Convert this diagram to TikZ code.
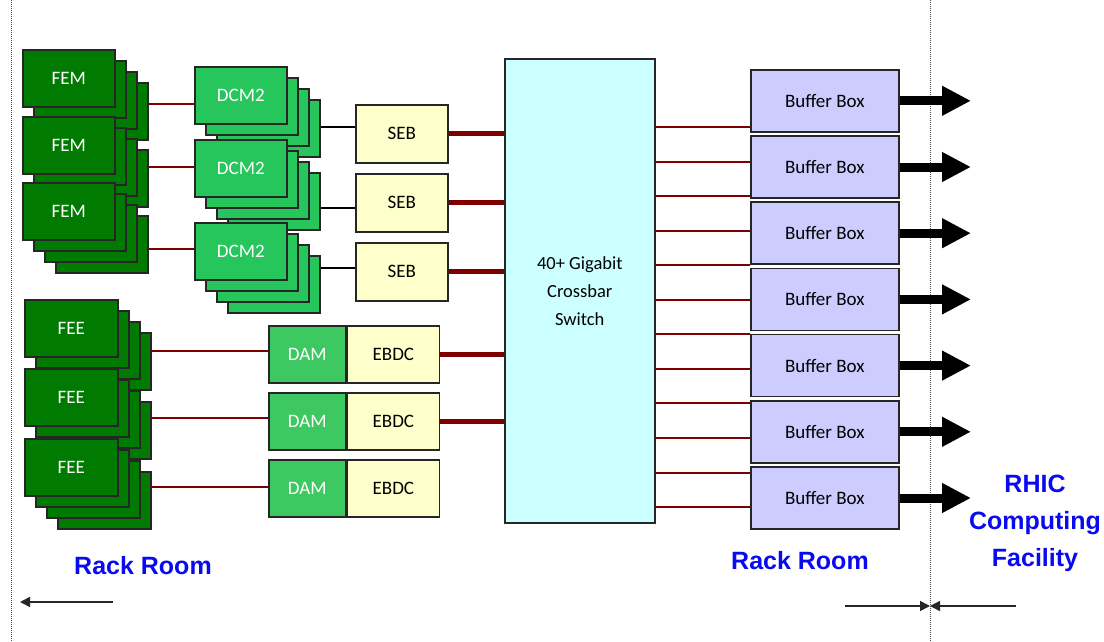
\documentclass[tikz,border=0pt]{standalone}
\usepackage{fontspec}
\setmainfont{Carlito}
\newfontfamily\roomfont{Liberation Sans}
\usetikzlibrary{arrows.meta}

\definecolor{femgreen}{RGB}{0,122,0}
\definecolor{dcmgreen}{RGB}{38,198,92}
\definecolor{damgreen}{RGB}{62,200,98}
\definecolor{sebyellow}{RGB}{255,255,204}
\definecolor{switchcyan}{RGB}{204,255,255}
\definecolor{bufblue}{RGB}{204,204,255}
\definecolor{linkred}{RGB}{128,0,0}
\definecolor{roomblue}{RGB}{10,10,240}

\tikzset{
  card/.style={draw=black!85, line width=1.6pt, anchor=north west, inner sep=0pt,
               font=\fontsize{19}{23}\selectfont},
  thinlink/.style={linkred, line width=2pt},
  thicklink/.style={linkred, line width=5pt},
  seblink/.style={black, line width=2pt},
  room/.style={font=\roomfont\bfseries\fontsize{25}{37}\selectfont, text=roomblue, align=center},
  fatarrow/.style={line width=9pt, -{Triangle[length=29pt,width=28pt]}},
  scalearrow/.style={line width=1.5pt, black!85, -{Triangle[length=10pt,width=10pt]}},
}

% stack of four cards, drawn back to front: name, x, y, width, colour, label
\newcommand{\cardstack}[6]{%
  \foreach \k in {3,2,1,0}
    \node[card, fill=#5, text=white, minimum width=#4pt, minimum height=57pt]
      (#1-\k) at ({#2+11*\k},{#3+11*\k}) {\ifnum\k=0 #6\fi};
}

\begin{document}
\begin{tikzpicture}[x=1pt, y=-1pt]

  % ================= page =================
  \fill[white] (0,0) rectangle (1104,642);
  \useasboundingbox (0,0) rectangle (1104,642);

  % ================= room boundaries =================
  \draw[black!70, line width=1pt, dash pattern=on 1pt off 1pt] (11,0) -- (11,642);
  \draw[black!70, line width=1pt, dash pattern=on 1pt off 1pt] (930,0) -- (930,642);

  % ================= FEM -> DCM2 =================
  \cardstack{fem1}{22}{49}{92}{femgreen}{FEM}
  \cardstack{fem2}{22}{116}{92}{femgreen}{FEM}
  \cardstack{fem3}{22}{182}{92}{femgreen}{FEM}

  \cardstack{dcm1}{194}{66}{92}{dcmgreen}{DCM2}
  \cardstack{dcm2}{194}{139}{92}{dcmgreen}{DCM2}
  \cardstack{dcm3}{194}{222}{92}{dcmgreen}{DCM2}

  \foreach \i/\y in {1/104,2/167,3/249}
    \draw[thinlink] (fem\i-3.east |- 0,\y) -- (dcm\i-0.west |- 0,\y);

  % ================= SEB =================
  \foreach \i/\y in {1/104,2/173,3/242}
    \node[card, fill=sebyellow, minimum width=92pt, minimum height=58pt] (seb\i) at (355,\y) {SEB};

  \foreach \i/\y in {1/127,2/208,3/268}
    \draw[seblink] (dcm\i-3.east |- 0,\y) -- (seb\i.west |- 0,\y);

  % ================= FEE -> DAM / EBDC =================
  \cardstack{fee1}{24}{299}{93}{femgreen}{FEE}
  \cardstack{fee2}{24}{368}{93}{femgreen}{FEE}
  \cardstack{fee3}{24}{438}{93}{femgreen}{FEE}

  \foreach \i/\y in {1/325,2/392,3/459} {
    \node[card, fill=damgreen, text=white, minimum width=77pt, minimum height=57pt] (dam\i) at (268,\y) {DAM};
    \node[card, fill=sebyellow, minimum width=92pt, minimum height=57pt] (ebdc\i) at (dam\i.north east) {EBDC};
  }

  \foreach \i/\y in {1/351,2/418,3/487}
    \draw[thinlink] (fee\i-3.east |- 0,\y) -- (dam\i.west |- 0,\y);

  % ================= crossbar switch =================
  \node[card, fill=switchcyan, minimum width=150pt, minimum height=464pt, align=center,
        font=\fontsize{18.5}{28}\selectfont] (sw) at (504,58) {40+ Gigabit\\Crossbar\\Switch};

  \foreach \i in {1,2,3}
    \draw[thicklink] (seb\i.east) -- (seb\i.east -| sw.west);
  \foreach \i in {1,2}
    \draw[thicklink] (ebdc\i.east) -- (ebdc\i.east -| sw.west);

  % ================= buffer boxes =================
  \coordinate (out) at (971,0);
  \foreach \i [evaluate=\i as \y using 69+66.2*(\i-1)] in {1,...,7} {
    \node[card, fill=bufblue, minimum width=148pt, minimum height=62pt] (bb\i) at (750,\y) {Buffer Box};
    \draw[fatarrow] (bb\i.east) -- (bb\i.east -| out);
  }

  \foreach \j [evaluate=\j as \y using 127+34.55*\j] in {0,...,11}
    \draw[thinlink] (sw.east |- 0,\y) -- (bb1.west |- 0,\y);

  % ================= rooms =================
  \node[room] (rack1) at (143,566) {Rack Room};
  \node[room] (rack2) at (800,561) {Rack Room};
  \node[room] (rcf)   at (1035,523) {RHIC\\Computing\\Facility};

  \coordinate (leftend) at (20,602);
  \coordinate (border)  at (930,606);
  \draw[scalearrow] (113,602) -- (leftend);
  \draw[scalearrow] (845,606) -- (border);
  \draw[scalearrow] (1016,606) -- (border);

\end{tikzpicture}
\end{document}
